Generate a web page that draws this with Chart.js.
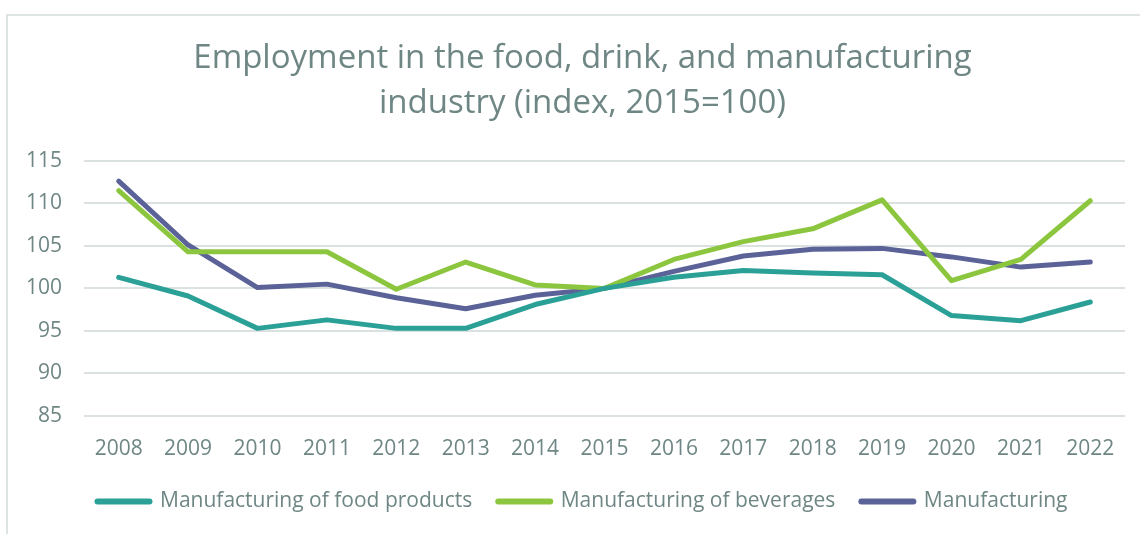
<!DOCTYPE html>
<html>
<head>
<meta charset="utf-8">
<script src="https://cdn.jsdelivr.net/npm/chart.js@4/dist/chart.umd.min.js"></script>
<style>
  html, body { margin: 0; padding: 0; background: #fff; }
  #frame {
    position: absolute; left: 6px; top: 14px; right: 0; bottom: 0;
    border-left: 2px solid #dde4e3; border-top: 2px solid #dde4e3;
  }
  #wrap { position: absolute; left: 0; top: 0; width: 1140px; height: 534px; }
</style>
</head>
<body>
<div id="frame"></div>
<div id="wrap"><canvas id="emp-chart" width="1140" height="534"></canvas></div>
<script>
var years = ['2008', '2009', '2010', '2011', '2012', '2013', '2014', '2015',
             '2016', '2017', '2018', '2019', '2020', '2021', '2022'];

var foodProducts = [101.3, 99.1, 95.3, 96.3, 95.3, 95.3, 98.1, 100,
                    101.3, 102.1, 101.8, 101.6, 96.8, 96.2, 98.4];
var beverages    = [111.5, 104.3, 104.3, 104.3, 99.9, 103.1, 100.4, 100,
                    103.4, 105.5, 107.0, 110.4, 100.9, 103.4, 110.3];
var manufacturing = [112.6, 105.1, 100.1, 100.5, 98.9, 97.6, 99.2, 100,
                     102.0, 103.8, 104.6, 104.7, 103.7, 102.5, 103.1];

var titleLines = ['Employment in the food, drink, and manufacturing',
                  'industry (index, 2015=100)'];

var textColor = '#6e8684';
var gridColor = '#dbe1e0';
var fontFamily = '"Open Sans", Lato, sans-serif';

function series(label, data, color) {
    return {
        label: label, data: data,
        borderColor: color, backgroundColor: color,
        borderWidth: 5, pointRadius: 0, tension: 0,
        borderCapStyle: 'round', borderJoinStyle: 'round'
    };
}

// the left padding keeps title and legend centred a bit right of the canvas
// middle; widen the y axis clip box afterwards so its labels are not cut off
var yLabelRoom = {
    id: 'yLabelRoom',
    afterLayout: function(chart) { chart.scales.y.left = 0; }
};

// legend samples as thick round-ended strokes, like the series lines
function legendLabels(chart) {
    var items = Chart.defaults.plugins.legend.labels.generateLabels(chart);
    items.forEach(function(item) {
        item.lineWidth = 6;
        item.lineCap = 'round';
    });
    return items;
}

new Chart(document.getElementById('emp-chart'), {
    type: 'line',
    data: {
        labels: years,
        datasets: [
            series('Manufacturing of food products', foodProducts, '#2aa096'),
            series('Manufacturing of beverages', beverages, '#8cc63f'),
            series('Manufacturing', manufacturing, '#5a6298')
        ]
    },
    plugins: [yLabelRoom],
    options: {
        responsive: false, animation: false,
        layout: { padding: { left: 40, right: 15, top: 0, bottom: 12 } },
        plugins: {
            title: {
                display: true, text: titleLines, color: textColor,
                font: { family: fontFamily, size: 33, weight: 'normal', lineHeight: 1.36 },
                padding: { top: 36, bottom: 35 }
            },
            legend: {
                position: 'bottom',
                labels: {
                    color: textColor, padding: 26,
                    usePointStyle: true, pointStyle: 'line', pointStyleWidth: 52,
                    generateLabels: legendLabels,
                    font: { family: fontFamily, size: 21 }
                }
            },
            tooltip: { enabled: false }
        },
        scales: {
            x: {
                offset: true,
                afterFit: function(axis) { axis.height = 49; },
                grid: { display: false, drawTicks: false },
                border: { display: false },
                ticks: { color: textColor, padding: 20, font: { family: fontFamily, size: 21 } }
            },
            y: {
                min: 85, max: 115,
                afterFit: function(axis) { axis.width = 44; },
                grid: { color: gridColor, lineWidth: 2, drawTicks: false },
                border: { display: false },
                ticks: { stepSize: 5, color: textColor, padding: 22, font: { family: fontFamily, size: 21 } }
            }
        }
    }
});
</script>
</body>
</html>
